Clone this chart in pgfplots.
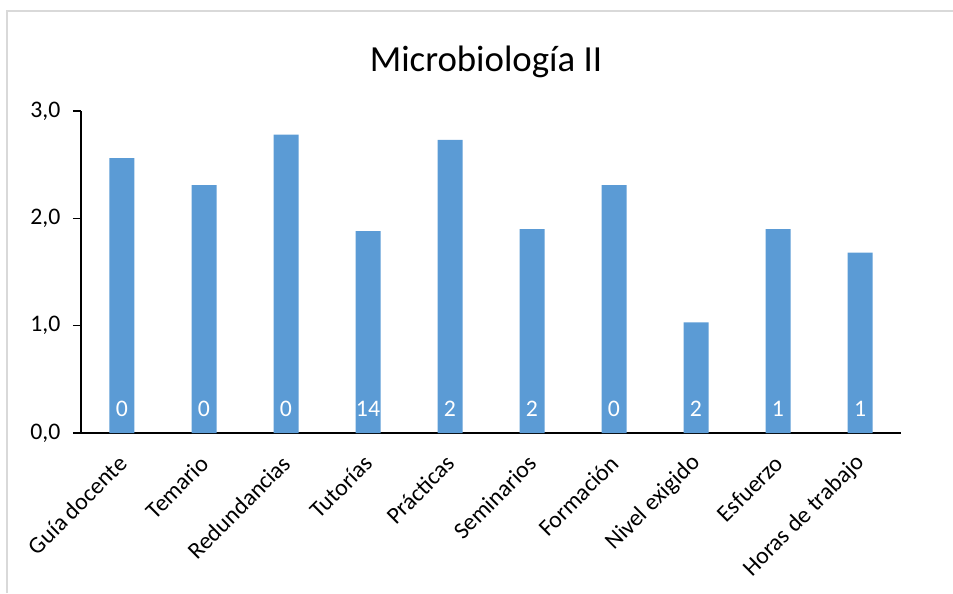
\documentclass[border=0pt]{standalone}
\usepackage{fontspec}
\setmainfont{Carlito}
\usepackage{pgfplots}
\usepackage{pgfplotstable}
\pgfplotsset{compat=1.18}
\definecolor{barblue}{HTML}{5B9BD5}
\definecolor{framegray}{HTML}{D9D9D9}

% x = category index, y = mean score, n = count shown inside the bar
\pgfplotstableread{
x y n
0 2.56 0
1 2.31 0
2 2.78 0
3 1.88 14
4 2.73 2
5 1.90 2
6 2.31 0
7 1.03 2
8 1.90 1
9 1.68 1
}\datatable

\newcommand{\tickfont}{\fontsize{17.8}{20}\selectfont}

\begin{document}
\begin{tikzpicture}
\begin{axis}[
  at={(0,0)}, anchor=south west,
  scale only axis,
  width=615pt, height=241.5pt,
  xmin=-0.5, xmax=9.5, ymin=0, ymax=3,
  axis x line=bottom, axis y line=left,
  axis line style={-, line width=1.2pt, black},
  xtick={0,...,9},
  xticklabels={Guía docente, Temario, Redundancias, Tutorías, Prácticas,
    Seminarios, Formación, Nivel exigido, Esfuerzo, Horas de trabajo},
  x tick label style={rotate=45, anchor=east, font=\tickfont,
    xshift=-6pt, yshift=-10.25pt},
  major x tick style={draw=none},
  ytick={0,1,2,3},
  tick align=outside,
  major tick length=6pt,
  major y tick style={line width=1.2pt, black},
  y tick label style={font=\tickfont, xshift=-6pt},
  yticklabel style={/pgf/number format/fixed,
    /pgf/number format/fixed zerofill,
    /pgf/number format/precision=1,
    /pgf/number format/use comma,
    /pgf/number format/assume math mode=true},
  clip=false,
]
\addplot[ybar, bar width=18.75pt, fill=barblue, draw=none]
  table[x=x, y=y] {\datatable};
\addplot[draw=none, mark=none, nodes near coords,
  point meta=explicit symbolic,
  every node near coord/.append style={anchor=center, text=white,
    font=\tickfont, yshift=18pt}]
  table[x=x, y expr=0, meta=n] {\datatable};
\end{axis}
\node[anchor=base, font=\fontsize{27.6}{32}\selectfont]
  at (303.75pt,270.75pt) {Microbiología II};
\draw[framegray, line width=1pt] (-55.5pt,-120pt) -- (-55.5pt,316.5pt) -- (654pt,316.5pt);
\pgfresetboundingbox
\path[use as bounding box] (-60.75pt,-120pt) rectangle (654pt,324.75pt);
\end{tikzpicture}
\end{document}
